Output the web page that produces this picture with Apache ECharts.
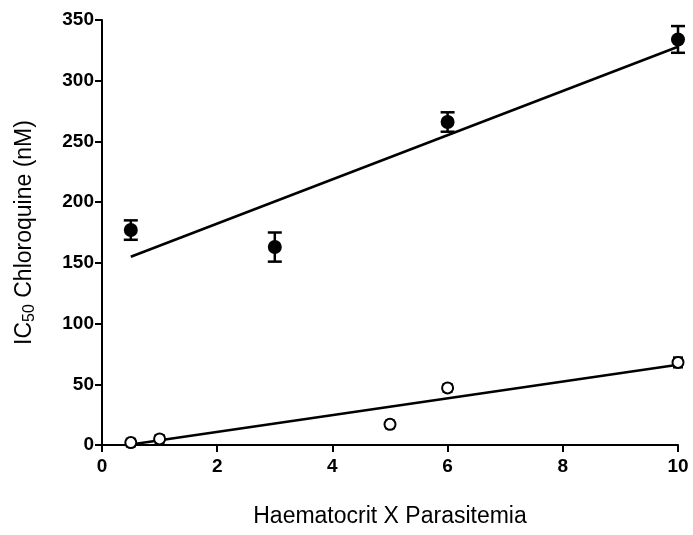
<!DOCTYPE html>
<html><head><meta charset="utf-8">
<script src="https://cdn.jsdelivr.net/npm/echarts@6/dist/echarts.min.js"></script>
<style>html,body{margin:0;padding:0;background:#fff}#c{width:693px;height:535px}</style>
</head><body><div id="c"></div>
<script>
var xTicks = [0, 2, 4, 6, 8, 10];
var yTicks = [0, 50, 100, 150, 200, 250, 300, 350];
var filledX = [0.5, 3, 6, 10];
var filledY = [177, 163, 266, 334];
var filledErr = [8, 12, 8, 11];
var openX = [0.5, 1, 5, 6, 10];
var openY = [2, 5, 17, 47, 68];
var openErr = [3, 3, 3, 3, 4];
var filledFitX = [0.5, 10];
var filledFitY = [155, 328];
var openFitX = [0.5, 10];
var openFitY = [0.5, 66];

function pairs(xs, ys) { return xs.map(function (x, i) { return [x, ys[i]]; }); }
function errData(xs, ys, es) { return xs.map(function (x, i) { return [x, ys[i] - es[i], ys[i] + es[i]]; }); }
function errRender(capW) {
  return function (params, api) {
    var lo = api.coord([api.value(0), api.value(1)]);
    var hi = api.coord([api.value(0), api.value(2)]);
    var st = { stroke: '#000', lineWidth: 2.5 };
    return { type: 'group', children: [
      { type: 'line', shape: { x1: lo[0], y1: lo[1], x2: hi[0], y2: hi[1] }, style: st },
      { type: 'line', shape: { x1: lo[0] - capW, y1: lo[1], x2: lo[0] + capW, y2: lo[1] }, style: st },
      { type: 'line', shape: { x1: hi[0] - capW, y1: hi[1], x2: hi[0] + capW, y2: hi[1] }, style: st }
    ]};
  };
}

var chart = echarts.init(document.getElementById('c'));
var lblFont = { color: '#000', fontFamily: 'Liberation Sans, Arial, sans-serif', fontSize: 19, fontWeight: 'bold' };
chart.setOption({
  animation: false,
  grid: { left: 102, right: 15, top: 20, bottom: 90 },
  xAxis: {
    type: 'value', min: 0, max: 10, interval: 2,
    axisLine: { onZero: false, lineStyle: { color: '#000', width: 2 } },
    axisTick: { length: 7, lineStyle: { color: '#000', width: 2 } },
    splitLine: { show: false },
    axisLabel: Object.assign({ margin: 12, formatter: function (v) { return xTicks.indexOf(v) >= 0 ? String(v) : ''; } }, lblFont),
    name: 'Haematocrit X Parasitemia', nameLocation: 'middle', nameGap: 60,
    nameTextStyle: { color: '#000', fontFamily: 'Liberation Sans, Arial, sans-serif', fontSize: 23 }
  },
  yAxis: {
    type: 'value', min: 0, max: 350, interval: 50,
    axisLine: { onZero: false, lineStyle: { color: '#000', width: 2 } },
    axisTick: { length: 7, lineStyle: { color: '#000', width: 2 } },
    splitLine: { show: false },
    axisLabel: Object.assign({ margin: 8, formatter: function (v) { return yTicks.indexOf(v) >= 0 ? String(v) : ''; } }, lblFont),
    name: 'IC{sub|50} Chloroquine (nM)', nameLocation: 'middle', nameGap: 64,
    nameTextStyle: { color: '#000', fontFamily: 'Liberation Sans, Arial, sans-serif', fontSize: 23,
      rich: { sub: { fontSize: 16, verticalAlign: 'bottom', padding: [10, 0, 0, 0], fontFamily: 'Liberation Sans, Arial, sans-serif', color: '#000' } } }
  },
  series: [
    { type: 'line', data: pairs(filledFitX, filledFitY), symbol: 'none', lineStyle: { color: '#000', width: 2.5 }, z: 2 },
    { type: 'line', data: pairs(openFitX, openFitY), symbol: 'none', lineStyle: { color: '#000', width: 2.5 }, z: 2 },
    { type: 'custom', data: errData(filledX, filledY, filledErr), renderItem: errRender(7), z: 3 },
    { type: 'custom', data: errData(openX, openY, openErr), renderItem: errRender(5), z: 3 },
    { type: 'scatter', data: pairs(filledX, filledY), symbol: 'circle', symbolSize: 14, itemStyle: { color: '#000', opacity: 1 }, z: 4 },
    { type: 'scatter', data: pairs(openX, openY), symbol: 'circle', symbolSize: 11, itemStyle: { color: '#fff', borderColor: '#000', borderWidth: 2, opacity: 1 }, z: 4 }
  ]
});
</script></body></html>
